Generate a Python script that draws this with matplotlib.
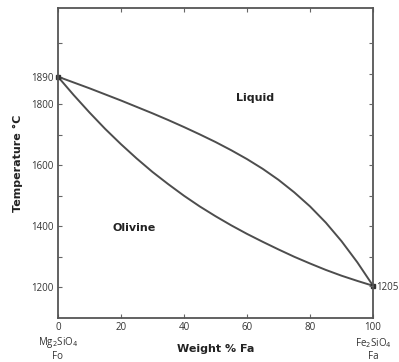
import matplotlib
matplotlib.use("Agg")
import matplotlib.pyplot as plt

# Fo-Fa binary, values
liq_x = [0, 5, 10, 15, 20, 25, 30, 35, 40, 45, 50, 55, 60, 65, 70, 75, 80, 85, 90, 95, 100]
liq_t = [1890, 1871, 1852, 1832, 1812, 1791, 1770, 1748, 1725, 1701, 1676, 1649, 1620, 1588, 1552, 1511, 1465, 1412, 1351, 1282, 1205]
sol_x = [0, 5, 10, 15, 20, 25, 30, 35, 40, 45, 50, 55, 60, 65, 70, 75, 80, 85, 90, 95, 100]
sol_t = [1890, 1830, 1773, 1719, 1669, 1622, 1578, 1538, 1500, 1465, 1433, 1403, 1375, 1349, 1324, 1300, 1278, 1257, 1238, 1221, 1205]

ends_x = [0, 100]
ends_t = [1890, 1205]

xticks = [0, 20, 40, 60, 80, 100]
yticks_major = [1200, 1400, 1600, 1800, 1890]
yticks_minor = [1300, 1500, 1700, 2000]
yticks_right = [1205, 1300, 1400, 1500, 1600, 1700, 1800, 1900, 2000]

line_c = "#4d4d4d"
txt_c = "#333333"
small = ["Open Sans", "DejaVu Sans"]

fig = plt.figure(figsize=(3.99, 3.62), dpi=100)
ax = fig.add_axes([0.145, 0.122, 0.79, 0.856])

ax.plot(liq_x, liq_t, color=line_c, lw=1.4)
ax.plot(sol_x, sol_t, color=line_c, lw=1.4)
ax.plot(ends_x, ends_t, "s", color="#333333", ms=2.5, clip_on=False)

ax.set_xlim(0, 100)
ax.set_ylim(1100, 2115)

for s in ax.spines.values():
    s.set_color("#555555")
    s.set_linewidth(1.3)

ax.set_xticks(xticks)
ax.set_xticklabels([str(v) for v in xticks], fontsize=7, color=txt_c, family=small)
ax.set_yticks(yticks_major)
ax.set_yticklabels([str(v) for v in yticks_major], fontsize=7, color=txt_c, family=small)
ax.set_yticks(yticks_minor, minor=True)
ax.tick_params(axis="both", which="both", direction="in", length=3, width=0.8,
               color="#666666", pad=3)
ax.tick_params(axis="x", top=True)

# right side ticks on a twin axis so the 1205 label sits on the right
axr = ax.twinx()
axr.set_ylim(ax.get_ylim())
axr.set_yticks(yticks_right)
axr.set_yticklabels(["1205"] + [""] * (len(yticks_right) - 1), fontsize=7,
                    color=txt_c, family=small)
axr.tick_params(axis="y", direction="in", length=3, width=0.8, color="#666666", pad=2)
for s in axr.spines.values():
    s.set_visible(False)

ax.set_xlabel("Weight % Fa", fontsize=8, fontweight="bold", color="#222222", labelpad=8)
ax.set_ylabel("Temperature °C", fontsize=8, fontweight="bold", color="#222222", labelpad=6)

ax.text(62.7, 1820, "Liquid", fontsize=8, fontweight="bold", color="#222222",
        ha="center", va="center")
ax.text(24.2, 1393, "Olivine", fontsize=8, fontweight="bold", color="#222222",
        ha="center", va="center")

for xv, formula, short in [(0, r"Mg$_2$SiO$_4$", "Fo"), (100, r"Fe$_2$SiO$_4$", "Fa")]:
    ax.annotate(formula, xy=(xv, 0), xycoords=("data", "axes fraction"),
                xytext=(0, -25), textcoords="offset pixels", ha="center", va="center",
                fontsize=7, color=txt_c, family=small, annotation_clip=False)
    ax.annotate(short, xy=(xv, 0), xycoords=("data", "axes fraction"),
                xytext=(0, -39), textcoords="offset pixels", ha="center", va="center",
                fontsize=7, color=txt_c, family=small, annotation_clip=False)

fig.savefig("out.png", dpi=100)
